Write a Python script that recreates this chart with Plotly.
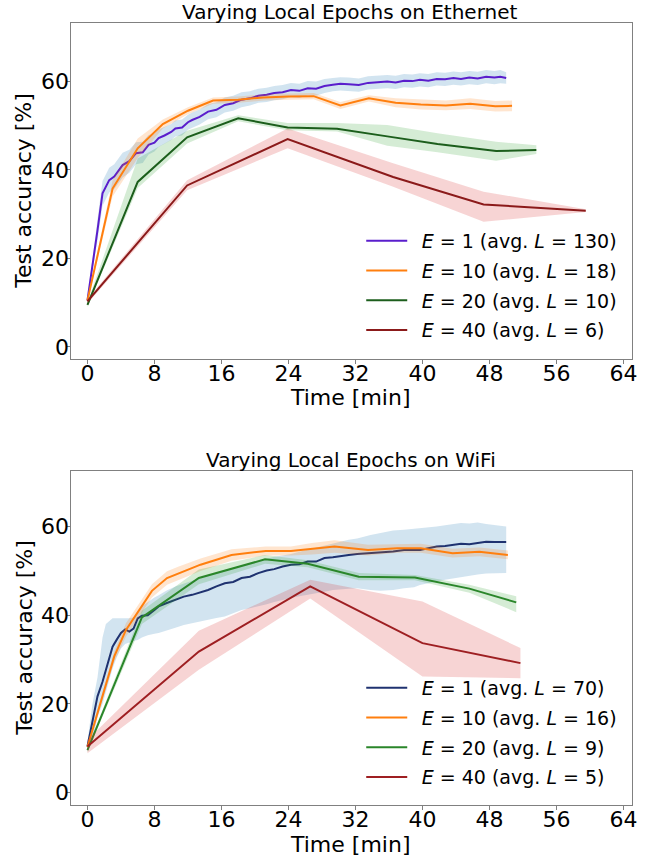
import plotly.graph_objects as go

# ---------------- Ethernet (top) ----------------
T_ETH_E1 = [0, 0.6, 1.2, 1.8, 2.6, 3.2, 4.2, 5.0, 5.8, 6.6,
            7.3, 8.0, 8.5, 9.2, 10.0, 10.5, 11.3, 12.0, 12.5, 13.4,
            14.4, 15.4, 16.4, 17.4, 18.4, 19.4, 20.4, 21.4, 22.3, 23.3,
            24.3, 25.3, 26.3, 27.3, 28.3, 29.3, 30.2, 31.2, 32.4, 33.5,
            34.6, 35.8, 36.8, 37.8, 38.8, 39.7, 40.7, 41.7, 42.7, 43.7,
            44.6, 45.6, 46.6, 47.6, 48.6, 49.3, 50.0]
ACC_ETH_E1 = [10.5, 19.0, 26.4, 34.7, 37.7, 38.5, 41.1, 42.0, 43.8, 44.0,
              45.7, 46.2, 47.2, 47.8, 48.6, 49.4, 49.6, 50.8, 51.3, 52.0,
              53.2, 53.6, 54.7, 55.1, 55.9, 56.2, 56.8, 57.0, 57.4, 57.6,
              58.1, 57.9, 58.5, 58.4, 59.0, 59.3, 59.5, 59.4, 59.2, 59.7,
              59.9, 60.0, 59.8, 60.2, 60.1, 60.4, 60.2, 60.6, 60.5, 60.8,
              60.6, 60.9, 60.7, 61.1, 60.9, 61.1, 60.8]
STD_ETH_E1 = [0.6, 1.5, 2.4, 2.8, 2.8, 2.8, 2.8, 2.6, 2.5, 2.4,
              2.2, 2.0, 2.0, 1.9, 1.8, 1.8, 1.8, 1.7, 1.7, 1.7,
              1.7, 1.7, 1.7, 1.7, 1.7, 1.6, 1.6, 1.6, 1.6, 1.6,
              1.6, 1.6, 1.6, 1.6, 1.6, 1.5, 1.5, 1.5, 1.5, 1.5,
              1.5, 1.5, 1.5, 1.5, 1.5, 1.5, 1.5, 1.5, 1.5, 1.5,
              1.5, 1.5, 1.5, 1.5, 1.5, 1.5, 1.3]

T_ETH_E10 = [0, 3.0, 6.0, 9.0, 12.0, 15.0, 18.0, 21.0, 24.0, 27.0,
             30.2, 33.6, 36.8, 39.8, 42.8, 45.7, 48.7, 50.7]
ACC_ETH_E10 = [10.5, 35.8, 44.9, 50.4, 53.4, 55.7, 55.9, 56.4, 56.6, 56.7,
               54.6, 56.2, 55.2, 54.8, 54.6, 55.0, 54.4, 54.5]
STD_ETH_E10 = [0.5, 1.8, 2.2, 1.0, 0.8, 0.7, 0.7, 0.7, 0.7, 0.7,
               0.8, 0.7, 1.0, 1.1, 1.1, 1.2, 1.2, 1.2]

T_ETH_E20 = [0, 6.0, 11.9, 18.0, 23.9, 29.8, 35.8, 41.8, 48.8, 53.6]
ACC_ETH_E20 = [9.5, 37.3, 47.4, 51.7, 49.6, 49.3, 47.6, 45.9, 44.3, 44.5]
UP_ETH_E20 = [10.0, 42.6, 48.9, 52.4, 50.6, 50.6, 50.2, 48.3, 46.4, 45.6]
LO_ETH_E20 = [9.0, 35.9, 46.0, 51.0, 49.0, 48.7, 45.5, 44.0, 42.1, 43.6]

T_ETH_E40 = [0, 11.9, 23.9, 36.5, 47.3, 59.5]
ACC_ETH_E40 = [10.3, 36.5, 47.0, 38.4, 32.2, 30.8]
UP_ETH_E40 = [10.8, 37.7, 49.4, 41.5, 35.1, 31.1]
LO_ETH_E40 = [9.8, 35.4, 44.9, 36.2, 28.3, 30.5]

# ---------------- WiFi (bottom) ----------------
T_WIFI_E1 = [0, 0.6, 1.2, 1.8, 2.2, 3.0, 3.5, 4.0, 4.5, 5.0,
             5.5, 6.0, 6.5, 7.2, 8.0, 8.5, 9.4, 10.5, 11.5, 12.5,
             13.4, 14.4, 15.4, 16.4, 17.4, 18.4, 19.4, 20.4, 21.4, 22.3,
             23.3, 24.3, 25.3, 26.3, 27.3, 28.3, 29.3, 30.2, 31.2, 32.2,
             33.8, 35.0, 36.5, 37.8, 39.0, 39.7, 40.7, 41.7, 42.7, 43.7,
             44.6, 45.6, 46.6, 47.6, 48.6, 50.0]
ACC_WIFI_E1 = [10.4, 16.0, 21.7, 25.0, 27.7, 32.9, 34.5, 36.0, 36.8, 36.3,
               37.0, 39.3, 39.9, 40.0, 41.2, 42.0, 42.7, 43.5, 44.2, 44.6,
               45.1, 45.7, 46.5, 47.2, 47.5, 48.4, 48.7, 49.5, 50.1, 50.4,
               51.0, 51.4, 51.5, 52.1, 52.1, 52.9, 53.1, 53.4, 53.6, 53.8,
               54.0, 54.2, 54.4, 54.7, 54.6, 54.7, 55.1, 55.5, 55.6, 55.9,
               56.1, 56.0, 56.3, 56.6, 56.5, 56.5]
UP_WIFI_E1 = [11.5, 20.0, 26.0, 35.0, 38.0, 39.3, 39.3, 39.3, 39.3, 39.3,
              39.5, 41.0, 42.0, 43.0, 44.0, 44.5, 45.5, 46.5, 47.2, 47.8,
              48.3, 49.0, 49.6, 50.2, 50.7, 51.3, 51.8, 52.3, 52.8, 53.2,
              53.5, 53.8, 54.3, 54.8, 55.3, 55.8, 56.2, 56.6, 57.0, 57.3,
              58.1, 58.6, 59.1, 59.3, 59.5, 59.6, 59.8, 60.0, 60.3, 60.5,
              60.8, 60.7, 60.9, 60.6, 60.3, 60.0]
LO_WIFI_E1 = [9.3, 12.0, 17.0, 20.0, 22.5, 28.0, 30.5, 32.5, 33.5, 33.8,
              34.2, 34.4, 35.0, 35.5, 35.8, 36.0, 36.5, 37.2, 37.8, 38.2,
              38.6, 39.0, 39.4, 39.7, 40.5, 41.2, 41.6, 42.0, 42.5, 43.0,
              43.5, 43.9, 44.3, 44.6, 45.0, 45.3, 45.7, 45.9, 46.0, 46.1,
              45.7, 45.5, 45.7, 46.1, 46.3, 46.8, 47.2, 47.6, 48.0, 48.4,
              48.7, 48.9, 49.2, 49.4, 49.5, 49.5]

T_WIFI_E10 = [0, 3.2, 4.6, 6.2, 7.7, 9.5, 10.9, 13.5, 17.2, 21.3,
              24.3, 26.8, 29.5, 33.5, 37.0, 39.8, 43.6, 46.8, 50.2]
ACC_WIFI_E10 = [10.3, 30.7, 36.7, 41.2, 45.5, 48.4, 49.5, 51.4, 53.6, 54.5,
                54.5, 55.0, 55.5, 54.7, 55.1, 55.1, 54.0, 54.3, 53.6]
STD_WIFI_E10 = [0.6, 1.2, 1.5, 1.5, 1.5, 1.5, 1.5, 1.4, 1.3, 1.0,
                1.0, 1.3, 1.4, 1.2, 1.0, 1.0, 1.0, 1.0, 1.0]

T_WIFI_E20 = [0, 6.5, 13.3, 21.2, 26.3, 32.4, 39.1, 45.6, 51.2]
ACC_WIFI_E20 = [9.6, 39.5, 48.4, 52.6, 51.6, 48.7, 48.5, 46.0, 42.9]
UP_WIFI_E20 = [10.1, 41.0, 50.3, 53.6, 52.4, 49.5, 49.1, 46.9, 44.3]
LO_WIFI_E20 = [9.1, 38.0, 47.0, 51.6, 50.8, 47.9, 47.9, 45.1, 40.7]

T_WIFI_E40 = [0, 13.3, 26.6, 40.0, 51.7]
ACC_WIFI_E40 = [10.4, 31.8, 46.5, 33.7, 29.2]
UP_WIFI_E40 = [11.9, 36.5, 48.0, 43.1, 32.6]
LO_WIFI_E40 = [8.9, 27.7, 43.8, 26.2, 25.8]

LABELS_ETH = ["<i>E</i> = 1 (avg. <i>L</i> = 130)", "<i>E</i> = 10 (avg. <i>L</i> = 18)",
              "<i>E</i> = 20 (avg. <i>L</i> = 10)", "<i>E</i> = 40 (avg. <i>L</i> = 6)"]
LABELS_WIFI = ["<i>E</i> = 1 (avg. <i>L</i> = 70)", "<i>E</i> = 10 (avg. <i>L</i> = 16)",
               "<i>E</i> = 20 (avg. <i>L</i> = 9)", "<i>E</i> = 40 (avg. <i>L</i> = 5)"]
TITLES = ["Varying Local Epochs on Ethernet", "Varying Local Epochs on WiFi"]
X_TITLE = "Time [min]"
Y_TITLE = "Test accuracy [%]"
X_TICKS = [0, 8, 16, 24, 32, 40, 48, 56, 64]
Y_TICKS = [0, 20, 40, 60]

FONT = "DejaVu Sans"
W, H = 657, 858

fig = go.Figure()


def add_series(t, mean, lo, hi, line_color, band_color, name, xa, ya, legend, idx):
    fig.add_trace(go.Scatter(x=list(t) + list(t)[::-1], y=list(hi) + list(lo)[::-1],
                             fill="toself", fillcolor=band_color, line=dict(width=0),
                             mode="lines", hoverinfo="skip", showlegend=False,
                             xaxis=xa, yaxis=ya))
    fig.add_trace(go.Scatter(x=t, y=mean, mode="lines", name="\u2002" + name,
                             line=dict(color=line_color, width=2),
                             xaxis=xa, yaxis=ya, legend=legend,
                             legendgroup=f"{legend}{idx}", legendrank=idx))


def pm(mean, std, sign):
    return [m + sign * s for m, s in zip(mean, std)]


BLUE_B = "rgba(31,119,180,0.2)"
ORANGE_B = "rgba(255,127,14,0.2)"
GREEN_B = "rgba(44,160,44,0.2)"
RED_B = "rgba(214,39,40,0.2)"

# top
add_series(T_ETH_E1, ACC_ETH_E1, pm(ACC_ETH_E1, STD_ETH_E1, -1), pm(ACC_ETH_E1, STD_ETH_E1, 1),
           "#5a1ecc", BLUE_B, LABELS_ETH[0], "x", "y", "legend", 1)
add_series(T_ETH_E10, ACC_ETH_E10, pm(ACC_ETH_E10, STD_ETH_E10, -1), pm(ACC_ETH_E10, STD_ETH_E10, 1),
           "#ff7f0e", ORANGE_B, LABELS_ETH[1], "x", "y", "legend", 2)
add_series(T_ETH_E20, ACC_ETH_E20, LO_ETH_E20, UP_ETH_E20,
           "#1c5e1c", GREEN_B, LABELS_ETH[2], "x", "y", "legend", 3)
add_series(T_ETH_E40, ACC_ETH_E40, LO_ETH_E40, UP_ETH_E40,
           "#8b1a1a", RED_B, LABELS_ETH[3], "x", "y", "legend", 4)
# bottom
add_series(T_WIFI_E1, ACC_WIFI_E1, LO_WIFI_E1, UP_WIFI_E1,
           "#1f3270", BLUE_B, LABELS_WIFI[0], "x2", "y2", "legend2", 1)
add_series(T_WIFI_E10, ACC_WIFI_E10, pm(ACC_WIFI_E10, STD_WIFI_E10, -1), pm(ACC_WIFI_E10, STD_WIFI_E10, 1),
           "#ff7f0e", ORANGE_B, LABELS_WIFI[1], "x2", "y2", "legend2", 2)
add_series(T_WIFI_E20, ACC_WIFI_E20, LO_WIFI_E20, UP_WIFI_E20,
           "#2a862a", GREEN_B, LABELS_WIFI[2], "x2", "y2", "legend2", 3)
add_series(T_WIFI_E40, ACC_WIFI_E40, LO_WIFI_E40, UP_WIFI_E40,
           "#9e1f22", RED_B, LABELS_WIFI[3], "x2", "y2", "legend2", 4)

SPINE = "#808080"
axis_common = dict(showline=True, mirror=True, linecolor=SPINE, linewidth=1,
                   ticks="outside", ticklen=3.5, tickcolor=SPINE, tickwidth=1,
                   showgrid=False, zeroline=False,
                   tickfont=dict(family=FONT, size=22, color="black"))
x_common = dict(axis_common, range=[-1.97, 65.04], tickvals=X_TICKS, ticklabelstandoff=-9)
y_common = dict(axis_common, tickvals=Y_TICKS, ticklabelstandoff=-7)

XD = [71.5 / W, 637 / W]
YD_TOP = [1 - 359.2 / H, 1 - 23.2 / H]
YD_BOT = [1 - 805 / H, 1 - 470.7 / H]
LEG_FONT = dict(family=FONT, size=19, color="black")


def ann(text, x, y, size, angle=0):
    return dict(text=text, x=x / W, y=1 - y / H, xref="paper", yref="paper",
                xanchor="center", yanchor="middle", showarrow=False, textangle=angle,
                font=dict(family=FONT, size=size, color="black"))


fig.update_layout(
    width=W, height=H, margin=dict(l=0, r=0, t=0, b=0),
    paper_bgcolor="white", plot_bgcolor="white",
    font=dict(family=FONT, color="black"),
    xaxis=dict(domain=XD, anchor="y", **x_common),
    yaxis=dict(domain=YD_TOP, anchor="x", range=[-2.8, 73.2], **y_common),
    xaxis2=dict(domain=XD, anchor="y2", **x_common),
    yaxis2=dict(domain=YD_BOT, anchor="x2", range=[-2.8, 72.6], **y_common),
    legend=dict(x=364 / W, y=1 - 222 / H, xanchor="left", yanchor="top",
                bgcolor="rgba(0,0,0,0)", font=LEG_FONT, tracegroupgap=2, itemwidth=41),
    legend2=dict(x=364 / W, y=1 - 669 / H, xanchor="left", yanchor="top",
                 bgcolor="rgba(0,0,0,0)", font=LEG_FONT, tracegroupgap=2, itemwidth=41),
    annotations=[
        ann(TITLES[0], 353, 12.5, 20),
        ann(TITLES[1], 353.5, 460, 20),
        ann(X_TITLE, 353.5, 398, 22),
        ann(X_TITLE, 353.5, 844, 22),
        ann(Y_TITLE, 24, 191, 22, -90),
        ann(Y_TITLE, 24, 638, 22, -90),
    ],
)

fig.write_html("out.html", config={"displayModeBar": False},
               post_script="document.body.style.margin='0px';")
